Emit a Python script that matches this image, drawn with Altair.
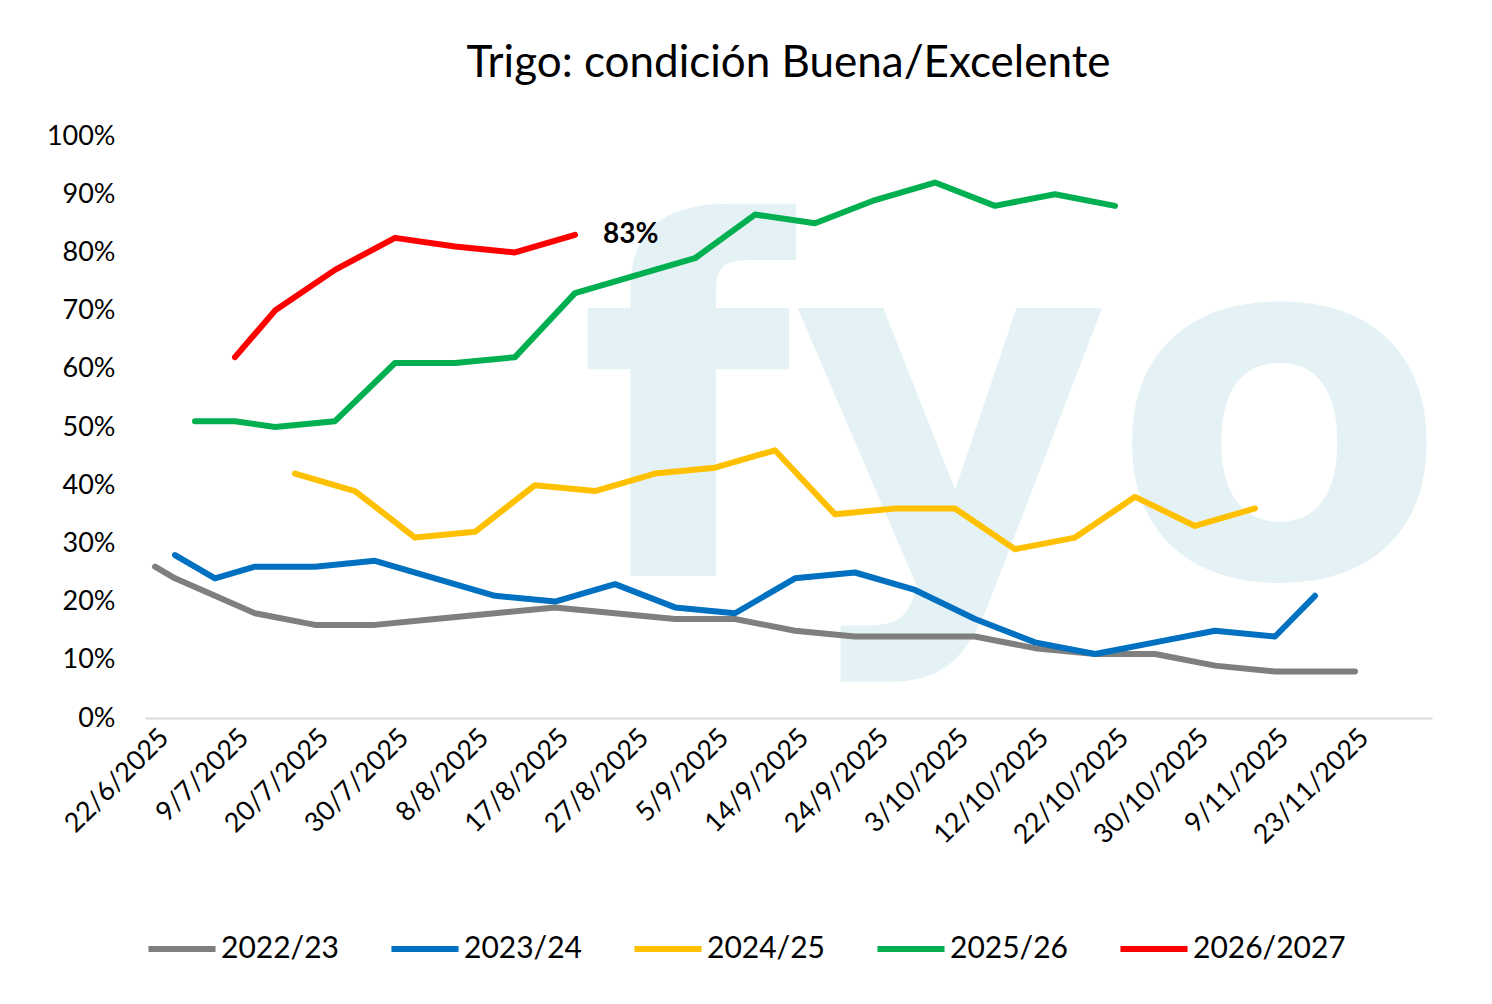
import pandas as pd
import altair as alt

# category labels (every 4th category of the Excel axis)
tick_labels = ["22/6/2025", "9/7/2025", "20/7/2025", "30/7/2025", "8/8/2025", "17/8/2025",
               "27/8/2025", "5/9/2025", "14/9/2025", "24/9/2025", "3/10/2025", "12/10/2025",
               "22/10/2025", "30/10/2025", "9/11/2025", "23/11/2025"]

# series: category index -> % good/excellent
idx_2223 = [0, 1, 3, 5, 8, 11, 14, 17, 20, 23, 26, 29, 32, 35, 38, 41, 44, 47, 50, 53, 56, 60]
val_2223 = [26, 24, 21, 18, 16, 16, 17, 18, 19, 18, 17, 17, 15, 14, 14, 14, 12, 11, 11, 9, 8, 8]
idx_2324 = [1, 3, 5, 8, 11, 14, 17, 20, 23, 26, 29, 32, 35, 38, 41, 44, 47, 50, 53, 56, 58]
val_2324 = [28, 24, 26, 26, 27, 24, 21, 20, 23, 19, 18, 24, 25, 22, 17, 13, 11, 13, 15, 14, 21]
idx_2425 = [7, 10, 13, 16, 19, 22, 25, 28, 31, 34, 37, 40, 43, 46, 49, 52, 55]
val_2425 = [42, 39, 31, 32, 40, 39, 42, 43, 46, 35, 36, 36, 29, 31, 38, 33, 36]
idx_2526 = [2, 4, 6, 9, 12, 15, 18, 21, 24, 27, 30, 33, 36, 39, 42, 45, 48]
val_2526 = [51, 51, 50, 51, 61, 61, 62, 73, 76, 79, 86.5, 85, 89, 92, 88, 90, 88]
idx_2627 = [4, 6, 9, 12, 15, 18, 21]
val_2627 = [62, 70, 77, 82.5, 81, 80, 83]

series = ["2022/23", "2023/24", "2024/25", "2025/26", "2026/2027"]
colors = ["#7f7f7f", "#0070c0", "#ffc000", "#00b050", "#ff0000"]

rows = []
for name, ix, vals in zip(series, [idx_2223, idx_2324, idx_2425, idx_2526, idx_2627],
                          [val_2223, val_2324, val_2425, val_2526, val_2627]):
    for i, v in zip(ix, vals):
        rows.append({"serie": name, "i": i, "v": v})
df = pd.DataFrame(rows)

FONT = "Lato"
label_expr = "[" + ",".join(f"'{t}'" for t in tick_labels) + "][round(datum.value/4)]"

xs = alt.Scale(domain=[-0.5, 63.85], nice=False, zero=False)
ys = alt.Scale(domain=[0, 1], nice=False)

base = alt.Chart(df)

lines = base.mark_line(strokeWidth=6, strokeCap="round", strokeJoin="round").encode(
    x=alt.X("i:Q", scale=xs, title=None,
            axis=alt.Axis(values=list(range(0, 61, 4)), labelExpr=label_expr, labelAngle=-45,
                          labelAlign="right", labelBaseline="top", labelFontSize=27,
                          labelFont=FONT, labelColor="#000", grid=False, ticks=False,
                          labelOverlap=False, domainColor="#d9d9d9", domainWidth=2,
                          labelPadding=6)),
    y=alt.Y("pct:Q", scale=ys, title=None,
            axis=alt.Axis(format="%", values=[i / 10 for i in range(11)], labelFontSize=27,
                          labelFont=FONT, labelColor="#000", grid=False, ticks=False,
                          domain=False, labelPadding=30)),
    color=alt.Color("serie:N", scale=alt.Scale(domain=series, range=colors), title=None,
                    legend=alt.Legend(orient="bottom", direction="horizontal", symbolType="stroke",
                                      symbolStrokeWidth=6, symbolSize=4500, labelFontSize=30,
                                      labelFont=FONT, labelColor="#000", columnPadding=40,
                                      offset=63, labelOffset=2)),
).transform_calculate(pct="datum.v/100")

watermark_df = pd.DataFrame({"t": ["fyo"], "i": [42.9], "pct": [0.244]})
watermark = alt.Chart(watermark_df).mark_text(
    fontSize=490, font="DejaVu Sans", fontWeight="bold", color="#e4f1f5",
    baseline="alphabetic", clip=True
).encode(x=alt.X("i:Q", scale=xs), y=alt.Y("pct:Q", scale=ys), text="t:N")

lab_df = pd.DataFrame({"t": ["83%"], "i": [21], "pct": [0.83]})
label = alt.Chart(lab_df).mark_text(
    fontSize=28, font=FONT, fontWeight="bold", align="left", dx=28, color="#000"
).encode(x=alt.X("i:Q", scale=xs), y=alt.Y("pct:Q", scale=ys), text="t:N")

chart = alt.layer(watermark, lines, label).properties(
    width=1287, height=582,
    title=alt.TitleParams("Trigo: condición Buena/Excelente", fontSize=44, font=FONT,
                          fontWeight="normal", color="#000", offset=36),
    padding={"left": 38, "top": 34, "right": 40, "bottom": 10},
).configure(background="white", view=alt.ViewConfig(stroke="transparent", strokeWidth=0))

chart.save("out.html", embed_options={"renderer": "svg", "actions": False})
